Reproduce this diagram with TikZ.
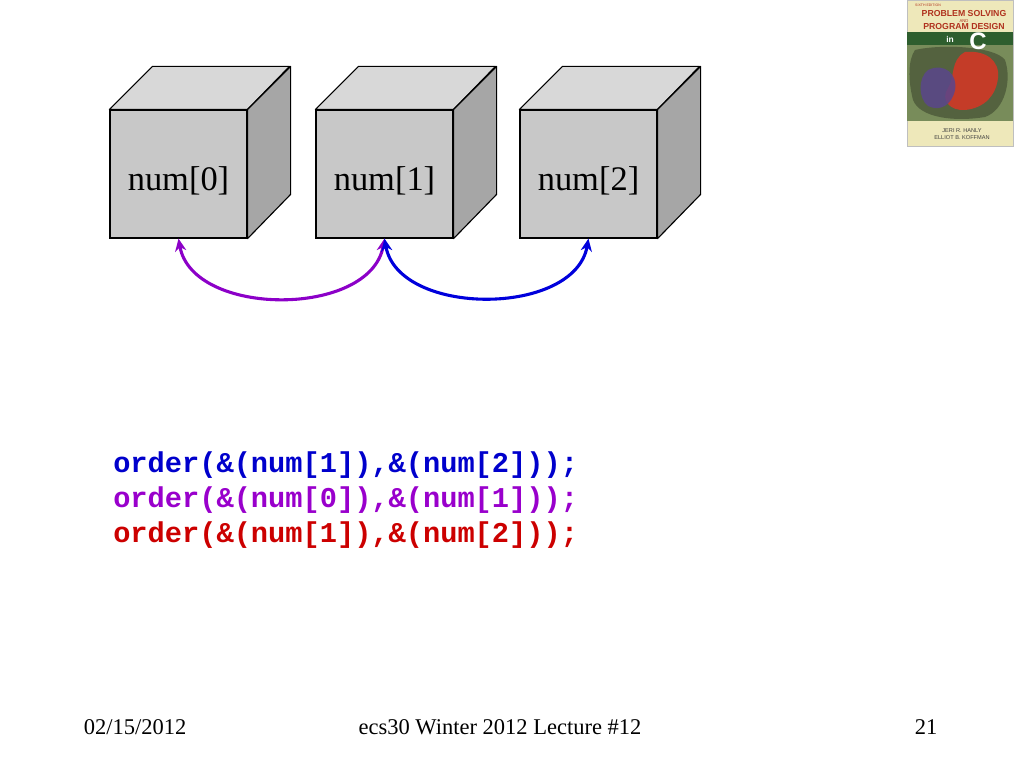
\documentclass[tikz,border=0pt]{standalone}
\usepackage{fontspec}
\setmainfont{Liberation Serif}
\setmonofont{Liberation Mono}
\newfontfamily\coverfont{Liberation Sans}
\usetikzlibrary{arrows.meta,positioning}

\definecolor{frontgray}{RGB}{200,200,200}
\definecolor{topgray}{RGB}{216,216,216}
\definecolor{sidegray}{RGB}{166,166,166}
\definecolor{codeblue}{RGB}{0,0,204}
\definecolor{codepurple}{RGB}{153,0,204}
\definecolor{codered}{RGB}{204,0,0}
\definecolor{arrowpurple}{RGB}{140,0,200}
\definecolor{arrowblue}{RGB}{0,0,220}
\definecolor{coverbg}{RGB}{238,232,186}
\definecolor{covertitle}{RGB}{176,50,30}
\definecolor{covergreen}{RGB}{46,94,46}
\definecolor{terrain}{RGB}{120,140,90}
\definecolor{blobred}{RGB}{196,60,40}
\definecolor{blobblue}{RGB}{90,70,140}

\tikzset{
  front/.style={draw,thick,fill=frontgray,minimum width=3.425cm,minimum height=3.2cm},
  cellname/.style={font=\fontsize{24.5}{28}\selectfont},
  face/.style={draw,thick,line join=round},
  swap/.style={line width=2.2pt,{Stealth[length=9pt,width=8pt]}-{Stealth[length=9pt,width=8pt]}},
  codeline/.style={anchor=west,font=\ttfamily\bfseries\fontsize{20.4}{24}\selectfont,inner sep=0pt},
  footer/.style={font=\fontsize{16}{18}\selectfont},
  covertext/.style={font=\coverfont\bfseries\fontsize{6.2}{7}\selectfont,inner sep=0pt}
}

\begin{document}
\begin{tikzpicture}[x=0.025cm,y=-0.025cm]
		\useasboundingbox[fill=white] (0,0) rectangle (1024,768);

		% the three array cells
		\foreach \i/\x in {0/178.5,1/384.5,2/588.5}
			{
			\node[front] (num\i) at (\x,174) {};
			\draw[face,fill=topgray] (num\i.north west)--++(43,-43)--++(137,0)--(num\i.north east)--cycle;
			\draw[face,fill=sidegray] (num\i.north east)--++(43,-43)--++(0,128)--(num\i.south east)--cycle;
			\node[cellname] (name\i) at (\x,181) {num[\i]};
			}

		% swaps
		\draw[swap,arrowpurple] (num1.south) to[out=-100,in=-80] (num0.south);
		\draw[swap,arrowblue] (num1.south) to[out=-80,in=-100] (num2.south);

		% calls
		\node[codeline,codeblue] (call1) at (113,465) {order(\&(num[1]),\&(num[2]));};
		\node[codeline,codepurple] (call2) at (113,500) {order(\&(num[0]),\&(num[1]));};
		\node[codeline,codered] (call3) at (113,535) {order(\&(num[1]),\&(num[2]));};

		% book cover
		\fill[coverbg] (907,0) rectangle (1013,146);
		\draw[black!25] (907,0) rectangle (1013,146);
		\fill[covergreen] (907,32) rectangle (1013,45);
		\fill[terrain] (907,45) rectangle (1013,121);
		\fill[terrain!70!black] (915,50) .. controls (940,44) and (995,46) .. (1005,60) .. controls (1012,80) and (1005,110) .. (985,117) .. controls (955,122) and (920,118) .. (913,100) .. controls (908,80) and (908,60) .. (915,50);
		\fill[blobred] (965,52) .. controls (985,50) and (1000,60) .. (998,78) .. controls (996,95) and (985,108) .. (965,110) .. controls (950,111) and (940,100) .. (948,88) .. controls (955,78) and (950,60) .. (965,52);
		\fill[blobblue,opacity=0.85] (928,70) .. controls (945,62) and (958,75) .. (955,90) .. controls (952,105) and (940,112) .. (928,106) .. controls (918,98) and (918,78) .. (928,70);
		\node[covertext,font=\coverfont\fontsize{2.5}{3}\selectfont,covertitle] (edition) at (928,5) {SIXTH EDITION};
		\node[covertext,covertitle] (title1) at (964,14) {PROBLEM SOLVING};
		\node[covertext,font=\coverfont\fontsize{3}{3}\selectfont,covertitle] (title2) at (964,21) {AND};
		\node[covertext,covertitle] (title3) at (964,27) {PROGRAM DESIGN};
		\node[covertext,white,font=\coverfont\bfseries\fontsize{6}{7}\selectfont] (title4) at (950,39) {in};
		\node[covertext,white,font=\coverfont\bfseries\fontsize{17}{17}\selectfont] (title5) at (978,41) {C};
		\node[covertext,font=\coverfont\fontsize{4}{5}\selectfont,black!75] (author1) at (962,131) {JERI R. HANLY};
		\node[covertext,font=\coverfont\fontsize{4}{5}\selectfont,black!75] (author2) at (962,138) {ELLIOT B. KOFFMAN};

		% footer
		\node[footer] (date) at (135,727) {02/15/2012};
		\node[footer] (course) at (500,727) {ecs30 Winter 2012 Lecture \#12};
		\node[footer] (page) at (926,727) {21};

	\end{tikzpicture}
\end{document}
